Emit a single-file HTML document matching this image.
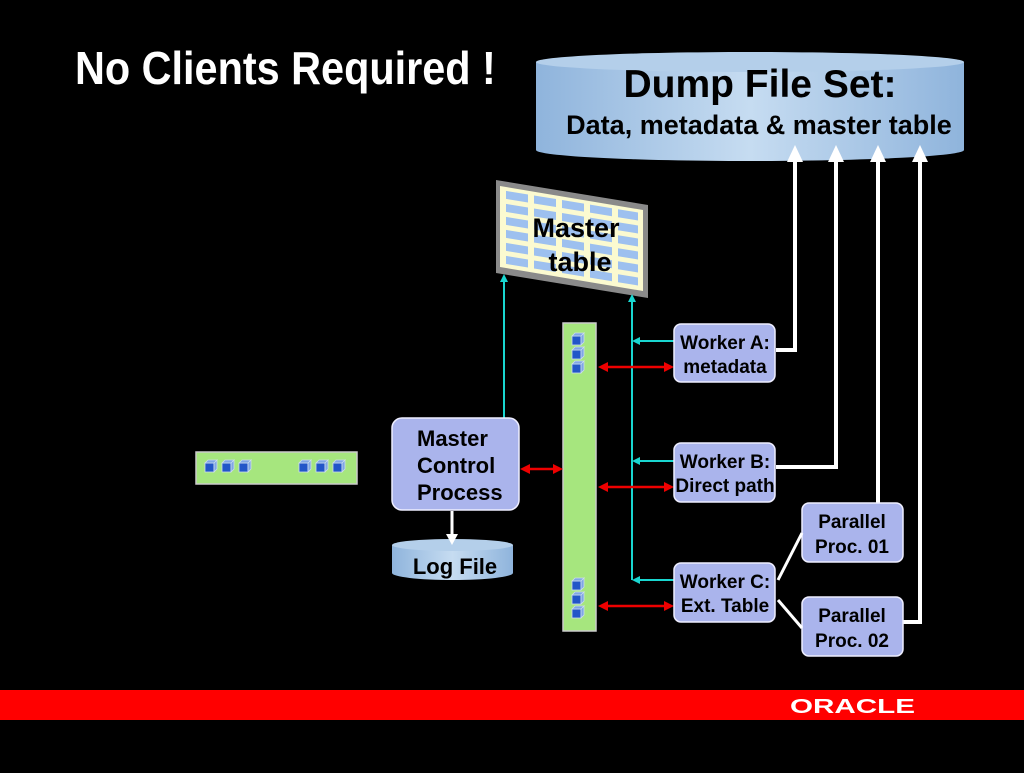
<!DOCTYPE html>
<html><head><style>
body{margin:0;background:#000;width:1024px;height:768px;overflow:hidden}
text{font-family:"Liberation Sans",sans-serif;font-weight:bold}
</style></head><body>
<svg width="1024" height="768" viewBox="0 0 1024 768" xmlns="http://www.w3.org/2000/svg">
<defs>
<linearGradient id="cylh" x1="0" y1="0" x2="1" y2="0">
<stop offset="0" stop-color="#8fb4dc"/><stop offset="0.5" stop-color="#c6dcf1"/><stop offset="1" stop-color="#8fb4dc"/></linearGradient>
<g id="cube"><rect x="0" y="3" width="9" height="9" fill="#2256c8" stroke="#cde" stroke-width="0.8"/><path d="M0,3 L3,0 L12,0 L9,3 Z M9,3 L12,0 L12,9 L9,12 Z" fill="#7fa6e6" stroke="#cde" stroke-width="0.8"/></g>
</defs>
<text x="75" y="84" font-size="46" fill="#fff" transform="translate(75 0) scale(0.9 1) translate(-75 0)">No Clients Required !</text>

<path d="M536,62 L536,150 A214,11 0 0 0 964,150 L964,62 Z" fill="url(#cylh)"/>
<ellipse cx="750" cy="62" rx="214" ry="10" fill="#b4cfea"/>
<text x="760" y="97" font-size="39" text-anchor="middle" fill="#000">Dump File Set:</text>
<text x="759" y="134" font-size="27" text-anchor="middle" fill="#000">Data, metadata &amp; master table</text>

<g stroke="#fff" stroke-width="4" fill="none">
<path d="M776,350 L795,350 L795,158"/>
<path d="M776,467 L836,467 L836,158"/>
<path d="M878,503 L878,158"/>
<path d="M903,622 L920,622 L920,158"/>
</g>
<g fill="#fff">
<polygon points="787,162 795,145 803,162"/><polygon points="828,162 836,145 844,162"/>
<polygon points="870,162 878,145 886,162"/><polygon points="912,162 920,145 928,162"/>
</g>

<polygon points="496,180 648,205 648,298 496,273" fill="#8a8a8a"/>
<polygon points="500,186 643,210 643,291 500,267" fill="#fbfad0"/>
<g fill="#9dc0ef">
<g transform="skewY(9.3) translate(0,-82)">
<rect x="506" y="190" width="22" height="8"/><rect x="534" y="190" width="22" height="8"/><rect x="562" y="190" width="22" height="8"/><rect x="590" y="190" width="22" height="8"/><rect x="618" y="190" width="20" height="8"/>
<rect x="506" y="203" width="22" height="8"/><rect x="534" y="203" width="22" height="8"/><rect x="562" y="203" width="22" height="8"/><rect x="590" y="203" width="22" height="8"/><rect x="618" y="203" width="20" height="8"/>
<rect x="506" y="216" width="22" height="8"/><rect x="534" y="216" width="22" height="8"/><rect x="562" y="216" width="22" height="8"/><rect x="590" y="216" width="22" height="8"/><rect x="618" y="216" width="20" height="8"/>
<rect x="506" y="229" width="22" height="8"/><rect x="534" y="229" width="22" height="8"/><rect x="562" y="229" width="22" height="8"/><rect x="590" y="229" width="22" height="8"/><rect x="618" y="229" width="20" height="8"/>
<rect x="506" y="242" width="22" height="8"/><rect x="534" y="242" width="22" height="8"/><rect x="562" y="242" width="22" height="8"/><rect x="590" y="242" width="22" height="8"/><rect x="618" y="242" width="20" height="8"/>
<rect x="506" y="255" width="22" height="8"/><rect x="534" y="255" width="22" height="8"/><rect x="562" y="255" width="22" height="8"/><rect x="590" y="255" width="22" height="8"/><rect x="618" y="255" width="20" height="8"/>
</g></g>
<text x="576" y="237" font-size="27" text-anchor="middle" fill="#000">Master</text>
<text x="580" y="271" font-size="27" text-anchor="middle" fill="#000">table</text>

<g stroke="#19d6d0" stroke-width="2" fill="none">
<path d="M504,418 L504,278"/>
<path d="M632,580 L632,300"/>
<path d="M674,341 L634,341"/>
<path d="M674,461 L634,461"/>
<path d="M674,580 L634,580"/>
</g>
<g fill="#19d6d0">
<polygon points="500,282 504,274 508,282"/><polygon points="628,302 632,294 636,302"/>
<polygon points="640,337 632,341 640,345"/><polygon points="640,457 632,461 640,465"/><polygon points="640,576 632,580 640,584"/>
</g>

<rect x="563" y="323" width="33" height="308" fill="#a6e67e" stroke="#ccc" stroke-width="1.5"/>
<use href="#cube" x="572" y="333"/><use href="#cube" x="572" y="347"/><use href="#cube" x="572" y="361"/>
<use href="#cube" x="572" y="578"/><use href="#cube" x="572" y="592"/><use href="#cube" x="572" y="606"/>
<rect x="196" y="452" width="161" height="32" fill="#a6e67e" stroke="#ccc" stroke-width="1.5"/>
<use href="#cube" x="205" y="460"/><use href="#cube" x="222" y="460"/><use href="#cube" x="239" y="460"/>
<use href="#cube" x="299" y="460"/><use href="#cube" x="316" y="460"/><use href="#cube" x="333" y="460"/>

<g stroke="#e00" stroke-width="2.5" fill="none">
<path d="M528,469 L556,469"/>
<path d="M606,367 L666,367"/>
<path d="M606,487 L666,487"/>
<path d="M606,606 L666,606"/>
</g>
<g fill="#e00">
<polygon points="530,464 520,469 530,474"/><polygon points="553,464 563,469 553,474"/>
<polygon points="608,362 598,367 608,372"/><polygon points="664,362 674,367 664,372"/>
<polygon points="608,482 598,487 608,492"/><polygon points="664,482 674,487 664,492"/>
<polygon points="608,601 598,606 608,611"/><polygon points="664,601 674,606 664,611"/>
</g>

<g fill="#aab4ec" stroke="#eef" stroke-width="1.5">
<rect x="392" y="418" width="127" height="92" rx="10"/>
<rect x="674" y="324" width="101" height="58" rx="7"/>
<rect x="674" y="443" width="101" height="59" rx="7"/>
<rect x="674" y="563" width="101" height="59" rx="7"/>
<rect x="802" y="503" width="101" height="59" rx="7"/>
<rect x="802" y="597" width="101" height="59" rx="7"/>
</g>
<g stroke="#fff" stroke-width="3"><line x1="778" y1="580" x2="802" y2="533"/><line x1="778" y1="600" x2="802" y2="628"/></g>
<g font-size="22" fill="#000">
<text x="417" y="446">Master</text><text x="417" y="473">Control</text><text x="417" y="500">Process</text>
</g>
<g font-size="19" fill="#000" text-anchor="middle">
<text x="725" y="349">Worker A:</text><text x="725" y="373">metadata</text>
<text x="725" y="468">Worker B:</text><text x="725" y="492">Direct path</text>
<text x="725" y="588">Worker C:</text><text x="725" y="612">Ext. Table</text>
<text x="852" y="528">Parallel</text><text x="852" y="553">Proc. 01</text>
<text x="852" y="622">Parallel</text><text x="852" y="647">Proc. 02</text>
</g>

<path d="M392,545 L392,573 A60.5,7 0 0 0 513,573 L513,545 Z" fill="url(#cylh)"/>
<ellipse cx="452.5" cy="545" rx="60.5" ry="6" fill="#b4cfea"/>
<line x1="452" y1="511" x2="452" y2="536" stroke="#fff" stroke-width="3"/>
<polygon points="446,534 452,545 458,534" fill="#fff"/>
<text x="455" y="574" font-size="22" text-anchor="middle" fill="#000">Log File</text>

<rect x="0" y="690" width="1024" height="30" fill="#ff0000"/>
<text x="790" y="713" font-size="20" fill="#fff" font-weight="normal" textLength="125" lengthAdjust="spacingAndGlyphs">ORACLE</text>
</svg>
</body></html>
